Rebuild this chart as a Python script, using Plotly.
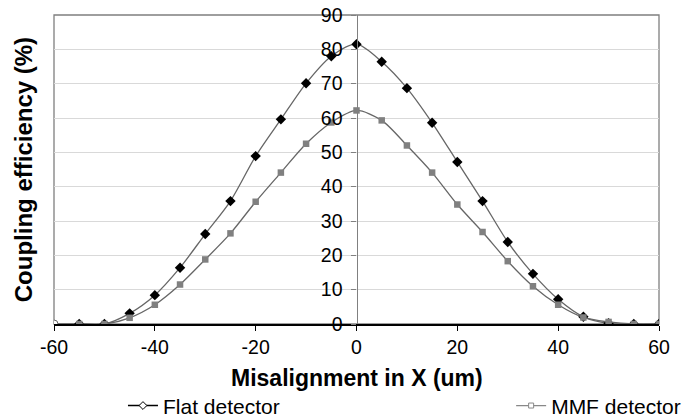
import plotly.graph_objects as go

x_flat = [-60, -55, -50, -45, -40, -35, -30, -25, -20, -15, -10, -5, 0,
          5, 10, 15, 20, 25, 30, 35, 40, 45, 50, 55, 60]
y_flat = [0, 0, 0, 3.1, 8.4, 16.4, 26.2, 35.8, 48.9, 59.6, 70.1, 78.0, 81.5,
          76.4, 68.7, 58.6, 47.2, 35.8, 23.9, 14.6, 7.2, 2.1, 0.2, 0, 0]
x_mmf = [-55, -50, -45, -40, -35, -30, -25, -20, -15, -10, -5, 0,
         5, 10, 15, 20, 25, 30, 35, 40, 45, 50, 55, 60]
y_mmf = [0, 0, 1.8, 5.6, 11.5, 18.8, 26.4, 35.6, 44.1, 52.5, 58.7, 62.2,
         59.3, 52.0, 44.1, 34.8, 26.8, 18.3, 11.0, 5.6, 1.9, 0.6, 0, 0]
series_names = ["Flat detector", "MMF detector"]
x_ticks = [-60, -40, -20, 0, 20, 40, 60]
y_ticks = [0, 10, 20, 30, 40, 50, 60, 70, 80, 90]

FONT = "Liberation Sans, Arial, sans-serif"

fig = go.Figure()

flat_colors = ["white"] + ["black"] * (len(x_flat) - 1)
flat_symbols = ["circle"] + ["diamond"] * (len(x_flat) - 1)
fig.add_trace(go.Scatter(
    x=x_flat, y=y_flat, mode="lines+markers", showlegend=False,
    line=dict(color="#666666", width=1.3, shape="spline", smoothing=0.8),
    marker=dict(symbol=flat_symbols, color=flat_colors, size=8,
                line=dict(color="#666666", width=[1] + [0] * (len(x_flat) - 1))),
))
fig.add_trace(go.Scatter(
    x=x_mmf, y=y_mmf, mode="lines+markers", showlegend=False,
    line=dict(color="#666666", width=1.3, shape="spline", smoothing=0.8),
    marker=dict(symbol="square", color="#808080", size=6.5),
))

# legend entries
fig.add_trace(go.Scatter(
    x=[None], y=[None], mode="lines+markers", name=series_names[0], legend="legend",
    line=dict(color="black", width=1.5),
    marker=dict(symbol="diamond", color="white", size=6, line=dict(color="black", width=1)),
))
fig.add_trace(go.Scatter(
    x=[None], y=[None], mode="lines+markers", name=series_names[1], legend="legend2",
    line=dict(color="#888888", width=1.2),
    marker=dict(symbol="square", color="white", size=5, line=dict(color="#888888", width=1)),
))

leg_common = dict(orientation="h", y=-0.265, xanchor="left", yanchor="middle",
                  font=dict(size=21, family=FONT), bgcolor="rgba(0,0,0,0)", itemwidth=30)

fig.update_layout(
    width=684, height=417,
    margin=dict(l=54, r=25, t=15, b=93, autoexpand=False),
    paper_bgcolor="white", plot_bgcolor="white",
    font=dict(family=FONT, color="black", size=16),
    showlegend=True,
    legend=dict(x=0.114, **leg_common),
    legend2=dict(x=0.7556, **leg_common),
    xaxis=dict(range=[-60, 60], tickvals=x_ticks, ticktext=[str(v) for v in x_ticks],
               showgrid=False, zeroline=False, showline=True, linecolor="black",
               linewidth=1.5, ticks="outside", ticklen=5, tickcolor="black",
               tickfont=dict(size=19.5, family=FONT), mirror=False),
    yaxis=dict(range=[0, 90], tickvals=y_ticks, ticktext=[str(v) for v in y_ticks],
               showgrid=True, gridcolor="#d9d9d9", gridwidth=1, zeroline=False,
               showline=True, linecolor="#808080", linewidth=1.2,
               ticks="outside", ticklen=5, tickcolor="#808080",
               tickfont=dict(size=19.5, family=FONT), anchor="free", position=0.5,
               ticklabelstandoff=5),
    shapes=[dict(type="rect", xref="paper", yref="paper", x0=0, x1=1, y0=0, y1=1,
                 line=dict(color="#7f7f7f", width=1.3), layer="below")],
    annotations=[
        dict(text="<b>Coupling efficiency (%)</b>", xref="paper", yref="paper",
             x=-0.05, y=0.5, xanchor="center", yanchor="middle", textangle=-90,
             showarrow=False, font=dict(size=24, family=FONT)),
        dict(text="<b>Misalignment in X (um)</b>", xref="paper", yref="paper",
             x=0.5, y=-0.175, xanchor="center", yanchor="middle",
             showarrow=False, font=dict(size=23, family=FONT)),
    ],
)

fig.write_html("out.html", config={"displayModeBar": False},
               post_script="document.body.style.margin='0px';document.body.style.overflow='hidden';")
